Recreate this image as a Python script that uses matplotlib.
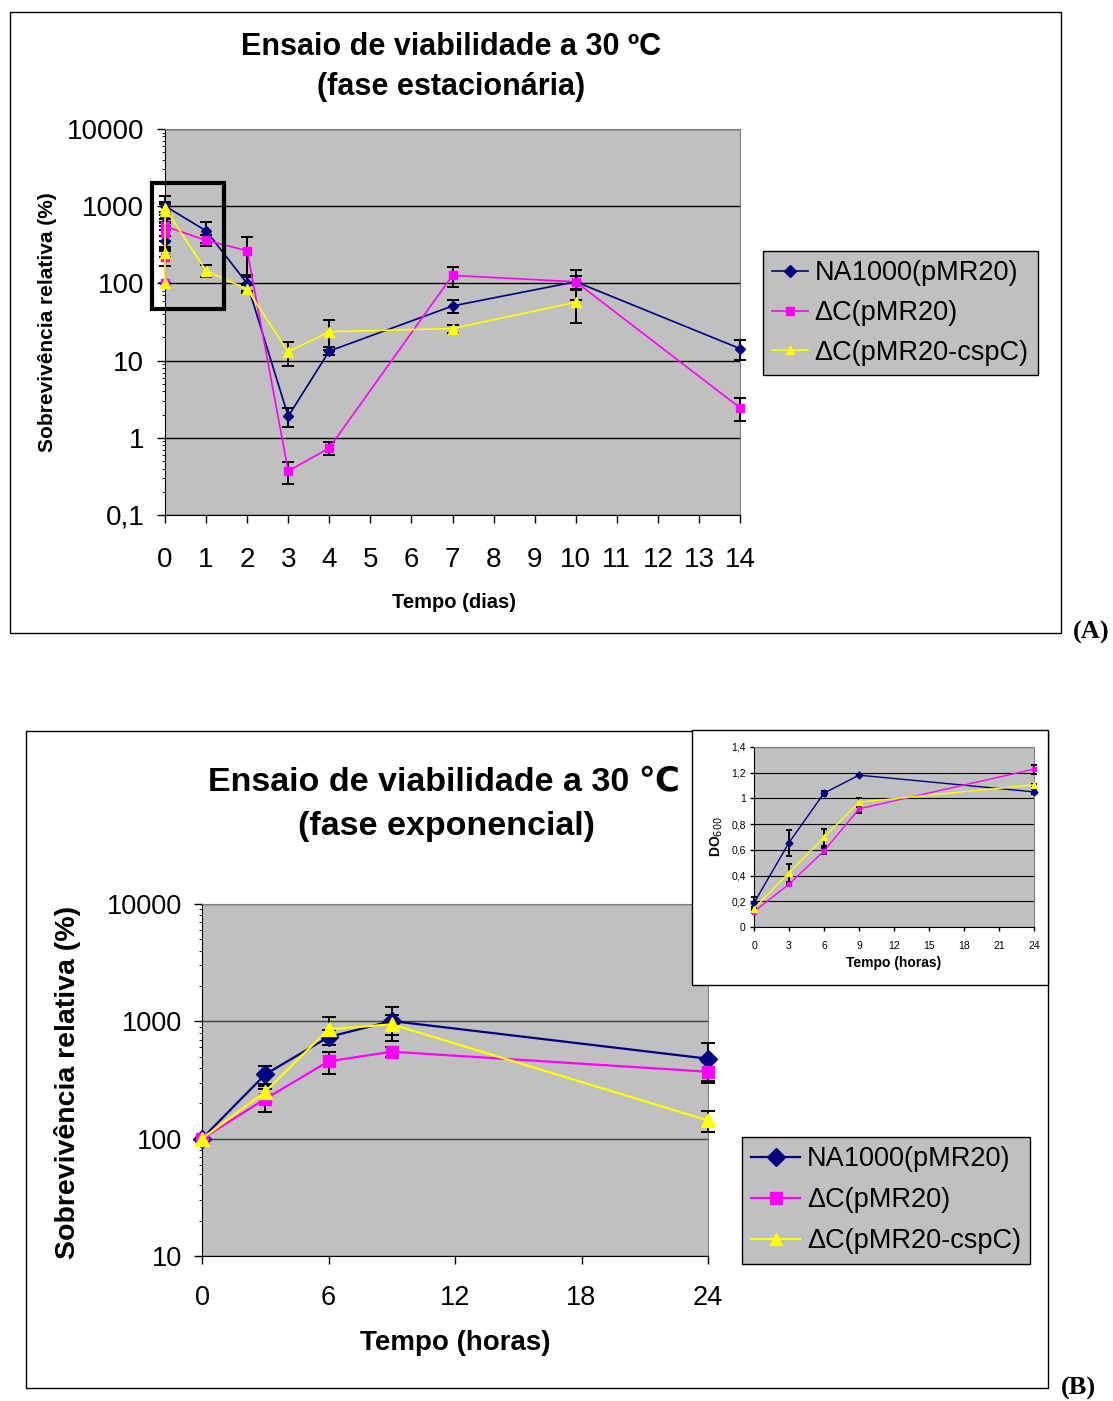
import matplotlib
matplotlib.use("Agg")
import matplotlib.pyplot as plt
from matplotlib.lines import Line2D
from matplotlib.patches import Rectangle

W, H = 1113, 1401
plt.rcParams['font.family'] = ['Liberation Sans', 'DejaVu Sans']

# ─────────── Painel A: fase estacionária (dias) ───────────
dias = [0, 0, 0, 0, 1, 2, 3, 4, 7, 10, 14]
na_a = [100, 353, 735, 1006, 480, 100, 1.9, 13.3, 51, 105, 14.3]
na_a_err = [0, 60, 105, 330, 150, 20, 0.5, 1.5, 10, 44, 4]
dc_a = [100, 218, 456, 551, 361, 265, 0.37, 0.74, 127, 105, 2.45]
dc_a_err = [0, 48, 97, 55, 60, 135, 0.12, 0.15, 38, 20, 0.8]
dias_csp = [0, 0, 0, 0, 1, 2, 3, 4, 7, 10]
csp_a = [100, 251, 855, 943, 146, 84, 13, 23.7, 26, 57]
csp_a_err = [0, 30, 225, 180, 25, 10, 4.5, 10, 3, 26]

# ─────────── Painel B: fase exponencial (horas) ───────────
horas = [0, 3, 6, 9, 24]
na_b = [100, 353, 735, 1006, 480]
na_b_err = [0, 60, 105, 330, 170]
dc_b = [100, 218, 456, 551, 372]
dc_b_err = [0, 48, 97, 55, 75]
csp_b = [100, 251, 855, 943, 143]
csp_b_err = [0, 30, 225, 180, 30]

# ─────────── Inset: DO600 ───────────
do_na = [0.187, 0.656, 1.041, 1.181, 1.051]
do_na_err = [0.05, 0.1, 0.02, 0.01, 0.02]
do_dc = [0.12, 0.333, 0.591, 0.919, 1.228]
do_dc_err = [0.01, 0.01, 0.02, 0.03, 0.035]
do_csp = [0.143, 0.422, 0.697, 0.971, 1.106]
do_csp_err = [0.01, 0.07, 0.065, 0.035, 0.01]

labels = ["NA1000(pMR20)", "\u0394C(pMR20)", "\u0394C(pMR20-cspC)"]
cores = ["#000080", "#FF00FF", "#FFFF00"]
marcas = ["D", "s", "^"]
GRAY = "#C0C0C0"


def rect(x0, y0, x1, y1):
    return [x0 / W, 1 - y1 / H, (x1 - x0) / W, (y1 - y0) / H]


def fx(x):
    return x / W


def fy(y):
    return 1 - y / H


def estilo(ax, grid_color="black"):
    ax.set_facecolor(GRAY)
    for s in ("top", "right"):
        ax.spines[s].set_color("#808080")
    for s in ("left", "bottom"):
        ax.spines[s].set_color("black")
    ax.yaxis.grid(True, color=grid_color, lw=1)
    ax.set_axisbelow(True)
    ax.tick_params(direction="out", color="black", length=6, width=1)
    ax.minorticks_off()


def serie(ax, x, y, err, i, ms, lw, cap):
    ax.errorbar(x, y, yerr=err, color=cores[i], marker=marcas[i], ms=ms,
                lw=lw, ecolor="black", elinewidth=1.4, capsize=cap,
                capthick=1.4, clip_on=False, zorder=3)


fig = plt.figure(figsize=(W / 100, H / 100), dpi=100)

# caixas externas
fig.add_artist(Rectangle((fx(10), fy(633)), fx(1051), 621 / H, fill=False,
                         ec="black", lw=1, transform=fig.transFigure, zorder=-1))
fig.add_artist(Rectangle((fx(26), fy(1388)), fx(1022), 657 / H, fill=False,
                         ec="black", lw=1, transform=fig.transFigure, zorder=-1))

# ─────────── Painel A ───────────
axA = fig.add_axes(rect(165, 129, 740, 515))
estilo(axA)
serie(axA, dias, na_a, na_a_err, 0, 5.5, 1.2, 4)
serie(axA, dias, dc_a, dc_a_err, 1, 6, 1.2, 4)
serie(axA, dias_csp, csp_a, csp_a_err, 2, 7, 1.2, 4)
axA.set_yscale("log")
axA.set_ylim(0.1, 10000)
axA.set_xlim(0, 14)
axA.set_yticks([0.1, 1, 10, 100, 1000, 10000],
               ["0,1", "1", "10", "100", "1000", "10000"])
axA.set_xticks(range(15))
axA.tick_params(axis="y", labelsize=20, pad=9)
axA.tick_params(axis="x", labelsize=20, pad=17)
axA.add_patch(Rectangle((-0.32, 46.5), 1.76, 2000 - 46.5, fill=False,
                        ec="black", lw=3, clip_on=False, zorder=5))

hA = [Line2D([], [], color=cores[i], marker=marcas[i], ms=6, lw=1.2)
      for i in range(3)]
axA.legend(hA, labels, loc="upper left", bbox_to_anchor=(fx(763), fy(251)),
           bbox_transform=fig.transFigure, fancybox=False, edgecolor="black",
           facecolor=GRAY, framealpha=1, fontsize=19.5, handlelength=1.3,
           handletextpad=0.25, labelspacing=0.5, borderpad=0.35,
           borderaxespad=0)

fig.text(fx(451), fy(47), "Ensaio de viabilidade a 30 ºC", ha="center",
         va="center", fontsize=22, weight="bold")
fig.text(fx(451), fy(87), "(fase estacionária)", ha="center",
         va="center", fontsize=22, weight="bold")
fig.text(fx(48), fy(322), "Sobrevivência relativa (%)", rotation=90,
         ha="center", va="center", fontsize=15, weight="bold")
fig.text(fx(454), fy(602), "Tempo (dias)", ha="center", va="center",
         fontsize=14.5, weight="bold")
fig.text(fx(1091), fy(632), "(A)", ha="center", va="center", fontsize=19,
         weight="bold", family="Liberation Serif")

# ─────────── Painel B ───────────
axB = fig.add_axes(rect(202, 904, 708, 1256))
estilo(axB, grid_color="#404040")
serie(axB, horas, na_b, na_b_err, 0, 9, 1.6, 5)
serie(axB, horas, dc_b, dc_b_err, 1, 8.5, 1.6, 5)
serie(axB, horas, csp_b, csp_b_err, 2, 10, 1.6, 5)
axB.set_yscale("log")
axB.set_ylim(10, 10000)
axB.set_xlim(0, 24)
axB.set_yticks([10, 100, 1000, 10000], ["10", "100", "1000", "10000"])
axB.set_xticks([0, 6, 12, 18, 24])
axB.tick_params(axis="y", labelsize=19.5, pad=8)
axB.tick_params(axis="x", labelsize=19.5, pad=15)

hB = [Line2D([], [], color=cores[i], marker=marcas[i], ms=9, lw=1.6)
      for i in range(3)]
axB.legend(hB, labels, loc="upper left", bbox_to_anchor=(fx(742), fy(1137)),
           bbox_transform=fig.transFigure, fancybox=False, edgecolor="black",
           facecolor=GRAY, framealpha=1, fontsize=19.5, handlelength=1.8,
           handletextpad=0.25, labelspacing=0.55, borderpad=0.35,
           borderaxespad=0)

fig.text(fx(444), fy(782), "Ensaio de viabilidade a 30 \u2103", ha="center",
         va="center", fontsize=24.5, weight="bold")
fig.text(fx(447), fy(827), "(fase exponencial)", ha="center",
         va="center", fontsize=24.5, weight="bold")
fig.text(fx(68), fy(1082), "Sobrevivência relativa (%)", rotation=90,
         ha="center", va="center", fontsize=20.5, weight="bold")
fig.text(fx(455), fy(1343), "Tempo (horas)", ha="center", va="center",
         fontsize=20, weight="bold")
fig.text(fx(1078), fy(1388), "(B)", ha="center", va="center", fontsize=19,
         weight="bold", family="Liberation Serif")

# ─────────── Inset DO600 ───────────
fig.add_artist(Rectangle((fx(692), fy(985)), fx(356), 255 / H, fc="white",
                         ec="black", lw=1, transform=fig.transFigure,
                         zorder=0.5))
axI = fig.add_axes(rect(754, 747, 1034, 927))
axI.set_zorder(1)
estilo(axI)
axI.yaxis.grid(True, color="black", lw=0.8)
serie(axI, horas, do_na, do_na_err, 0, 3.5, 1, 2)
serie(axI, horas, do_dc, do_dc_err, 1, 3.5, 1, 2)
serie(axI, horas, do_csp, do_csp_err, 2, 4, 1, 2)
axI.set_ylim(0, 1.4)
axI.set_xlim(0, 24)
axI.set_yticks([0, 0.2, 0.4, 0.6, 0.8, 1, 1.2, 1.4],
               ["0", "0,2", "0,4", "0,6", "0,8", "1", "1,2", "1,4"])
axI.set_xticks(range(0, 25, 3))
axI.tick_params(axis="y", labelsize=7.5, length=3, pad=3)
axI.tick_params(axis="x", labelsize=7.5, length=3, pad=7)
axI.set_xlabel("Tempo (horas)", fontsize=10, weight="bold", labelpad=4)
axI.set_ylabel("DO$_{600}$", fontsize=10, weight="bold", labelpad=4)

fig.savefig("out.png", dpi=100)
